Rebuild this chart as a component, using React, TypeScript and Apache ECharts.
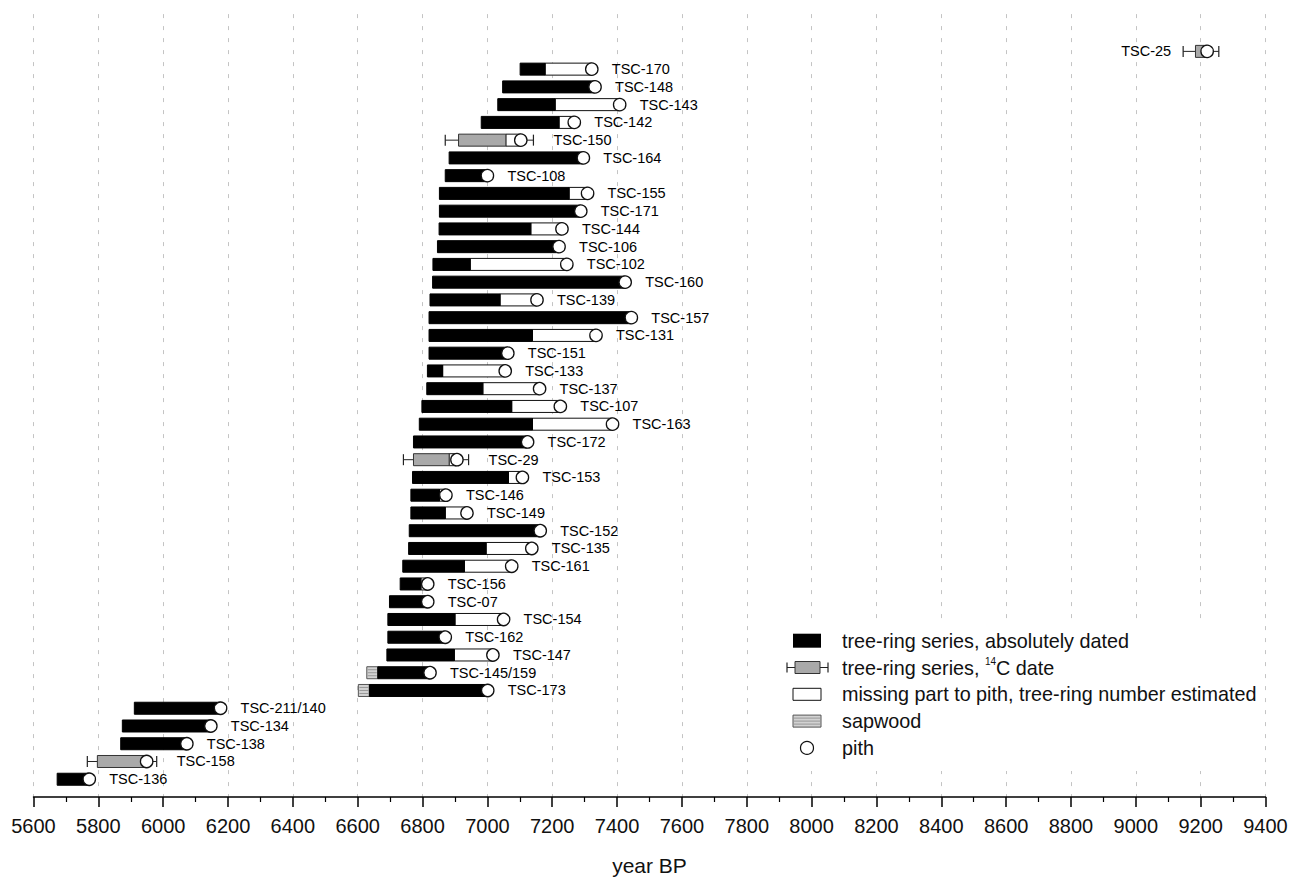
import React, { useEffect, useRef } from "react";
import * as echarts from "echarts";

// ---- data (years BP) ----
const labels = [
  "TSC-25", "TSC-170", "TSC-148", "TSC-143", "TSC-142", "TSC-150", "TSC-164", "TSC-108",
  "TSC-155", "TSC-171", "TSC-144", "TSC-106", "TSC-102", "TSC-160", "TSC-139", "TSC-157",
  "TSC-131", "TSC-151", "TSC-133", "TSC-137", "TSC-107", "TSC-163", "TSC-172", "TSC-29",
  "TSC-153", "TSC-146", "TSC-149", "TSC-152", "TSC-135", "TSC-161", "TSC-156", "TSC-07",
  "TSC-154", "TSC-162", "TSC-147", "TSC-145/159", "TSC-173", "TSC-211/140", "TSC-134",
  "TSC-138", "TSC-158", "TSC-136",
];
// "a" = absolutely dated, "c" = 14C date
const kinds = [
  "c", "a", "a", "a", "a", "c", "a", "a", "a", "a", "a", "a", "a", "a", "a", "a",
  "a", "a", "a", "a", "a", "a", "a", "c", "a", "a", "a", "a", "a", "a", "a", "a",
  "a", "a", "a", "a", "a", "a", "a", "a", "c", "a",
];
const sapwoodStart: (number | null)[] = [
  null, null, null, null, null, null, null, null, null, null, null, null, null, null,
  null, null, null, null, null, null, null, null, null, null, null, null, null, null,
  null, null, null, null, null, null, null, 6628, 6602, null, null, null, null, null,
];
const seriesStart = [
  9184, 7101, 7047, 7032, 6981, 6911, 6882, 6870, 6852, 6852, 6851, 6846, 6832, 6831,
  6823, 6820, 6820, 6820, 6815, 6813, 6798, 6790, 6772, 6772, 6769, 6764, 6764, 6759,
  6757, 6739, 6731, 6698, 6693, 6693, 6690, 6662, 6636, 5911, 5874, 5869, 5797, 5673,
];
const seriesEnd = [
  9209, 7178, 7332, 7209, 7221, 7057, 7296, 7000, 7252, 7288, 7134, 7221, 6947, 7425,
  7039, 7444, 7139, 7063, 6862, 6986, 7075, 7139, 7124, 6882, 7065, 6852, 6870, 7163,
  6996, 6929, 6795, 6816, 6900, 6870, 6898, 6823, 7001, 6165, 6147, 6073, 5949, 5772,
];
const pithYear = [
  9220, 7322, 7332, 7408, 7268, 7103, 7296, 7000, 7309, 7288, 7230, 7221, 7245, 7425,
  7153, 7444, 7335, 7063, 7055, 7161, 7225, 7386, 7124, 6906, 7108, 6872, 6937, 7163,
  7137, 7075, 6816, 6816, 7050, 6870, 7017, 6823, 7001, 6177, 6147, 6073, 5949, 5772,
];
const errLow: (number | null)[] = [
  9146, null, null, null, null, 6870, null, null, null, null, null, null, null, null,
  null, null, null, null, null, null, null, null, null, 6741, null, null, null, null,
  null, null, null, null, null, null, null, null, null, null, null, null, 5766, null,
];
const errHigh: (number | null)[] = [
  9256, null, null, null, null, 7142, null, null, null, null, null, null, null, null,
  null, null, null, null, null, null, null, null, null, 6942, null, null, null, null,
  null, null, null, null, null, null, null, null, null, null, null, null, 5980, null,
];
// labels drawn to the left of the bar
const labelLeft = ["TSC-25"];

const xMin = 5600;
const xMax = 9400;
const xStep = 200;
const axisName = "year BP";

const legendTexts = [
  "tree-ring series, absolutely dated",
  "{a|tree-ring series, }{s|14}{a|C date}",
  "missing part to pith, tree-ring number estimated",
  "sapwood",
  "pith",
];

const FONT = "'Liberation Sans', Arial, Helvetica, sans-serif";
const GRAY = "#a9a9a9";
const SAP = "#d2d2d2";

function sapwoodShapes(x: number, yc: number, w: number, h: number) {
  const out: any[] = [
    {
      type: "rect",
      shape: { x, y: yc - h / 2, width: w, height: h },
      style: { fill: SAP, stroke: "#555", lineWidth: 1 },
    },
  ];
  for (const d of [-3, 0, 3]) {
    out.push({
      type: "line",
      shape: { x1: x + 1, y1: yc + d, x2: x + w - 1, y2: yc + d },
      style: { stroke: "#8a8a8a", lineWidth: 0.8 },
    });
  }
  return out;
}

export default function App() {
  const ref = useRef<HTMLDivElement>(null);

  useEffect(() => {
    if (!ref.current) return;
    const chart = echarts.init(ref.current, null, { renderer: "svg" });

    const renderItem = (params: any, api: any) => {
      const i = params.dataIndex;
      const row = api.value(1);
      const yc = api.coord([xMin, row])[1];
      const px = (v: number) => api.coord([v, row])[0];
      const h = 12;
      const children: any[] = [];
      const s = seriesStart[i];
      const e = seriesEnd[i];
      const p = pithYear[i];
      const sw = sapwoodStart[i];
      if (sw != null) {
        children.push(...sapwoodShapes(px(sw), yc, px(s) - px(sw), h));
      }
      const lo = errLow[i];
      const hi = errHigh[i];
      if (lo != null && hi != null) {
        const capH = 11;
        children.push(
          { type: "line", shape: { x1: px(lo), y1: yc, x2: px(s), y2: yc }, style: { stroke: "#222", lineWidth: 1 } },
          { type: "line", shape: { x1: px(p), y1: yc, x2: px(hi), y2: yc }, style: { stroke: "#222", lineWidth: 1 } },
          { type: "line", shape: { x1: px(lo), y1: yc - capH / 2, x2: px(lo), y2: yc + capH / 2 }, style: { stroke: "#222", lineWidth: 1.2 } },
          { type: "line", shape: { x1: px(hi), y1: yc - capH / 2, x2: px(hi), y2: yc + capH / 2 }, style: { stroke: "#222", lineWidth: 1.2 } }
        );
      }
      if (p > e) {
        children.push({
          type: "rect",
          shape: { x: px(e), y: yc - h / 2, width: px(p) - px(e), height: h },
          style: { fill: "#fff", stroke: "#111", lineWidth: 1 },
        });
      }
      children.push({
        type: "rect",
        shape: { x: px(s), y: yc - h / 2, width: px(e) - px(s), height: h },
        style: {
          fill: kinds[i] === "c" ? GRAY : "#000",
          stroke: kinds[i] === "c" ? "#333" : "#000",
          lineWidth: 1,
        },
      });
      children.push({
        type: "circle",
        shape: { cx: px(p), cy: yc, r: 6.2 },
        style: { fill: "#fff", stroke: "#111", lineWidth: 1.3 },
      });
      const right = hi != null ? Math.max(px(hi), px(p)) : px(p);
      const left = lo != null ? px(lo) : px(sw != null ? sw : s);
      const onLeft = labelLeft.includes(labels[i]);
      children.push({
        type: "text",
        style: {
          text: labels[i],
          x: onLeft ? left - 12 : right + 20,
          y: yc,
          align: onLeft ? "right" : "left",
          verticalAlign: "middle",
          fill: "#000",
          fontSize: 14.5,
          fontFamily: FONT,
        },
      });
      return { type: "group", children };
    };

    const L = { y0: 640.7, dy: 26.8 };
    const legendGraphics: any[] = [
      {
        type: "rect",
        shape: { x: 783, y: 623, width: 478, height: 148 },
        style: { fill: "#fff" },
        z: 50,
      },
    ];
    legendTexts.forEach((t, k) => {
      const yk = L.y0 + k * L.dy;
      if (k === 0) {
        legendGraphics.push({ type: "rect", shape: { x: 793, y: yk - 7, width: 28, height: 14 }, style: { fill: "#000" }, z: 51 });
      } else if (k === 1) {
        legendGraphics.push(
          { type: "line", shape: { x1: 787, y1: yk, x2: 828, y2: yk }, style: { stroke: "#222", lineWidth: 1 }, z: 51 },
          { type: "line", shape: { x1: 787, y1: yk - 5, x2: 787, y2: yk + 5 }, style: { stroke: "#222", lineWidth: 1.2 }, z: 51 },
          { type: "line", shape: { x1: 828, y1: yk - 5, x2: 828, y2: yk + 5 }, style: { stroke: "#222", lineWidth: 1.2 }, z: 51 },
          { type: "rect", shape: { x: 795, y: yk - 6, width: 25, height: 12 }, style: { fill: GRAY, stroke: "#333", lineWidth: 1 }, z: 52 }
        );
      } else if (k === 2) {
        legendGraphics.push({ type: "rect", shape: { x: 793, y: yk - 6, width: 28, height: 12 }, style: { fill: "#fff", stroke: "#111", lineWidth: 1 }, z: 51 });
      } else if (k === 3) {
        sapwoodShapes(793, yk, 28, 12).forEach((g) => legendGraphics.push({ ...g, z: 51 }));
      } else {
        legendGraphics.push({ type: "circle", shape: { cx: 807, cy: yk, r: 6.5 }, style: { fill: "#fff", stroke: "#111", lineWidth: 1.2 }, z: 51 });
      }
      legendGraphics.push({
        type: "text",
        x: 842,
        y: yk,
        style: {
          text: t,
          fill: "#111",
          fontSize: 19.8,
          fontFamily: FONT,
          verticalAlign: "middle",
          align: "left",
          rich: {
            a: { fontSize: 19.8, fontFamily: FONT, fill: "#111", lineHeight: 22, verticalAlign: "middle" },
            s: { fontSize: 10, fontFamily: FONT, fill: "#111", lineHeight: 22, verticalAlign: "top", padding: [0, 0, 0, 0] },
          },
        },
        z: 51,
      });
    });

    chart.setOption({
      animation: false,
      backgroundColor: "#fff",
      grid: { left: 33.5, right: 26.5, top: 14.1, bottom: 78.3, containLabel: false },
      xAxis: {
        type: "value",
        min: xMin,
        max: xMax,
        interval: xStep,
        position: "bottom",
        name: axisName,
        nameLocation: "middle",
        nameGap: 58,
        nameTextStyle: { fontSize: 21, color: "#111", fontFamily: FONT },
        axisLine: { show: true, onZero: false, lineStyle: { color: "#000", width: 1.5 } },
        axisTick: { show: true, inside: false, length: 10, lineStyle: { color: "#000", width: 1.5 } },
        minorTick: { show: true, splitNumber: 2, length: 5, lineStyle: { color: "#000", width: 1.2 } },
        axisLabel: {
          fontSize: 20,
          color: "#111",
          fontFamily: FONT,
          margin: 19,
          formatter: (v: number) => String(v),
        },
        splitLine: { show: true, lineStyle: { color: "#c4c4c4", width: 1, type: [4, 8] } },
      },
      yAxis: {
        type: "value",
        min: -1.1,
        max: 43,
        inverse: true,
        show: false,
        splitLine: { show: false },
      },
      series: [
        {
          type: "custom",
          renderItem,
          clip: false,
          encode: { x: 0, y: 1 },
          data: labels.map((_, i) => [seriesStart[i], i + 1]),
          z: 10,
        },
      ],
      graphic: legendGraphics,
    });

    return () => chart.dispose();
  }, []);

  return (
    <div
      ref={ref}
      style={{ position: "fixed", left: 0, top: 0, width: 1292, height: 881, background: "#fff" }}
    />
  );
}
